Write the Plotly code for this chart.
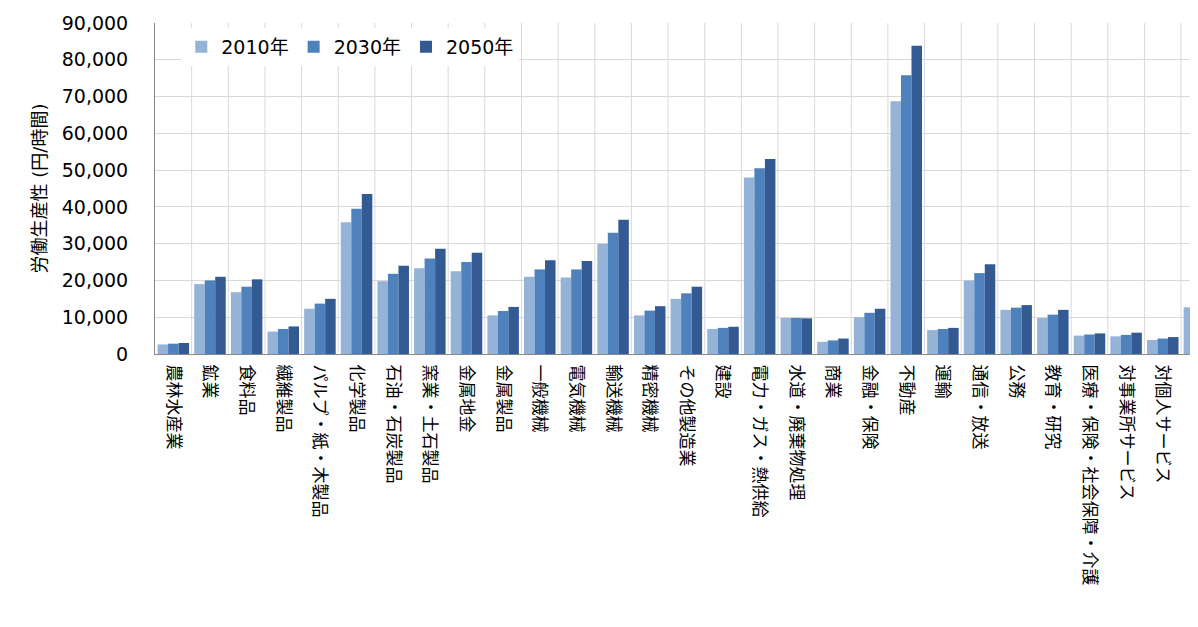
import plotly.graph_objects as go

categories = ["農林水産業", "鉱業", "食料品", "繊維製品", "パルプ・紙・木製品", "化学製品",
              "石油・石炭製品", "窯業・土石製品", "金属地金", "金属製品", "一般機械", "電気機械",
              "輸送機械", "精密機械", "その他製造業", "建設", "電力・ガス・熱供給", "水道・廃棄物処理",
              "商業", "金融・保険", "不動産", "運輸", "通信・放送", "公務", "教育・研究",
              "医療・保険・社会保障・介護", "対事業所サービス", "対個人サービス", "その他"]

v2010 = [2600, 19000, 16800, 6100, 12300, 35800, 19800, 23300, 22500, 10500, 21000, 20800,
         30000, 10500, 15000, 6800, 48000, 9800, 3300, 10000, 68700, 6500, 20000, 12000, 9800,
         5000, 4800, 3800, 12700]
v2030 = [2800, 20000, 18300, 6800, 13700, 39500, 21800, 26000, 25000, 11700, 23000, 23000,
         33000, 11800, 16500, 7100, 50500, 9800, 3700, 11200, 75800, 6800, 22000, 12600, 10700,
         5300, 5200, 4200, 13300]
v2050 = [3000, 21000, 20300, 7500, 15000, 43500, 24000, 28600, 27500, 12800, 25500, 25300,
         36500, 13000, 18300, 7400, 53000, 9700, 4200, 12300, 83800, 7100, 24400, 13300, 12000,
         5600, 5800, 4600, 13500]

series = [("2010年", v2010, "#95B3D7"), ("2030年", v2030, "#4F81BD"), ("2050年", v2050, "#345A94")]

fig = go.Figure()
for name, vals, color in series:
    fig.add_trace(go.Bar(x=list(range(len(categories))), y=vals, name=name,
                         marker=dict(color=color, line=dict(width=0))))

fig.update_layout(
    width=1198, height=627, barmode="group", bargap=0.14, bargroupgap=0,
    plot_bgcolor="white", paper_bgcolor="white",
    font=dict(family="DejaVu Sans, Noto Sans CJK JP", size=16, color="black"),
    margin=dict(l=147, r=0, t=15, b=281),
    legend=dict(orientation="h", x=0.025, y=0.985, xanchor="left", yanchor="top",
                bgcolor="white", font=dict(size=19)),
)
fig.update_xaxes(range=[-0.5, 28.18], tickmode="array", tickvals=list(range(len(categories))),
                 ticktext=categories, tickangle=90, showgrid=False, showline=True,
                 linecolor="#888", ticks="", automargin=False, ticklabelstandoff=6,
                 tickfont=dict(size=17, family="Noto Sans CJK JP"))
for i in range(len(categories)):
    fig.add_vline(x=i + 0.5, line_width=1, line_color="#D9D9D9", layer="below")
fig.update_yaxes(range=[0, 90000], dtick=10000, tickformat=",", showgrid=True,
                 gridcolor="#D9D9D9", showline=True, linecolor="#888", automargin=False,
                 ticklabelstandoff=22,
                 title=dict(text="労働生産性 (円/時間)", font=dict(size=18), standoff=10),
                 tickfont=dict(size=19))
fig.write_html("out.html")
